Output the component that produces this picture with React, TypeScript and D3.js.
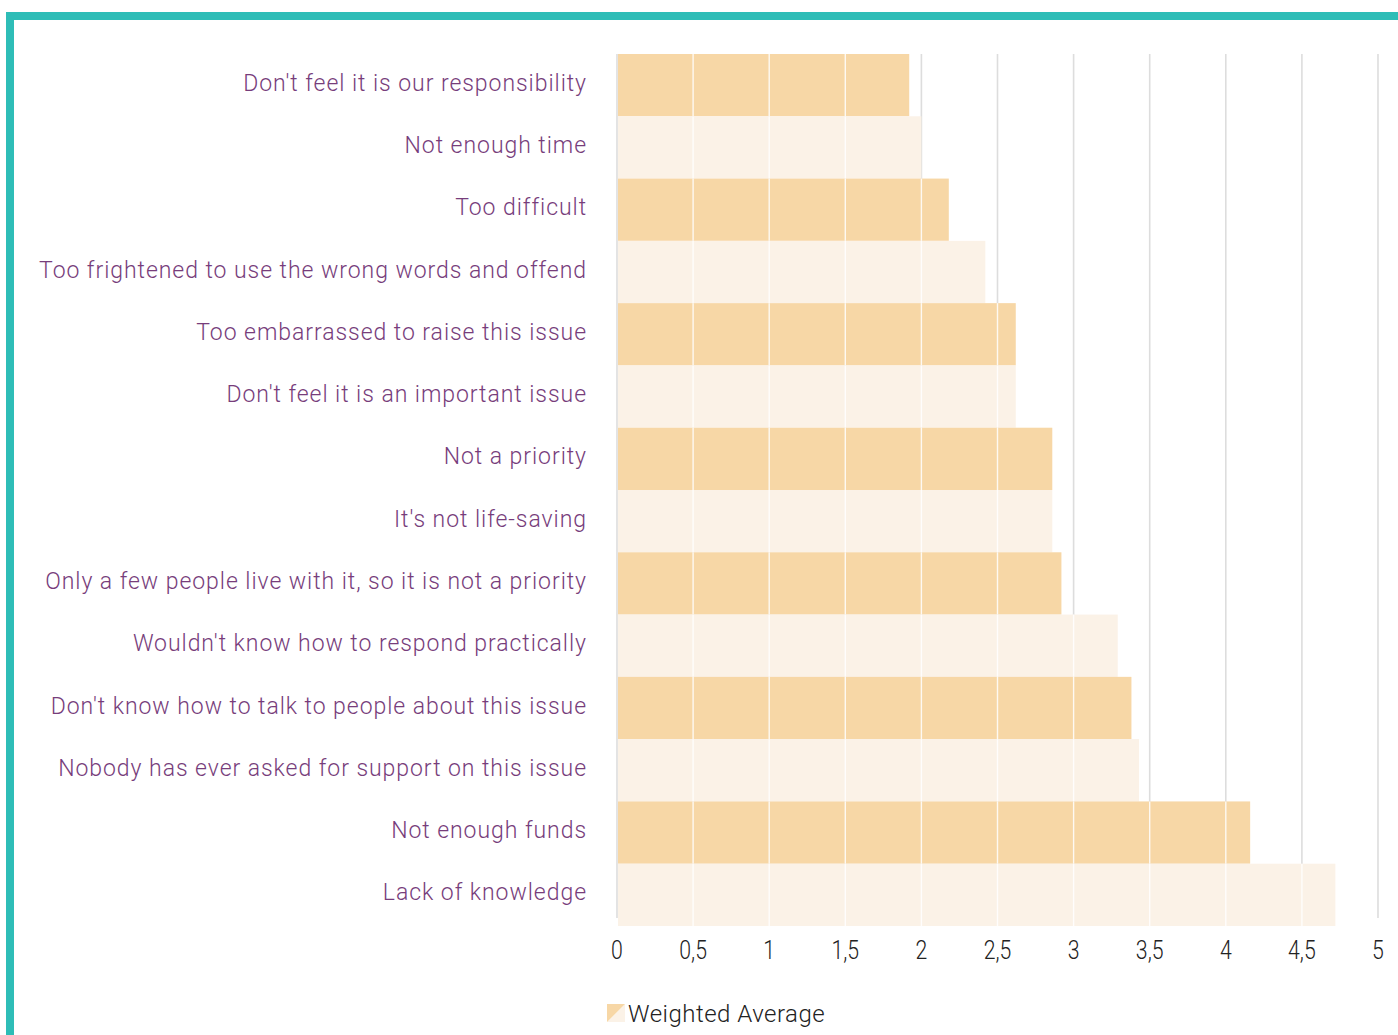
import React from "react";
import * as d3 from "d3";

const categories = [
  "Don't feel it is our responsibility",
  "Not enough time",
  "Too difficult",
  "Too frightened to use the wrong words and offend",
  "Too embarrassed to raise this issue",
  "Don't feel it is an important issue",
  "Not a priority",
  "It's not life-saving",
  "Only a few people live with it, so it is not a priority",
  "Wouldn't know how to respond practically",
  "Don't know how to talk to people about this issue",
  "Nobody has ever asked for support on this issue",
  "Not enough funds",
  "Lack of knowledge",
];
const values = [1.92, 2.0, 2.18, 2.42, 2.62, 2.62, 2.86, 2.86, 2.92, 3.29, 3.38, 3.43, 4.16, 4.72];
const tickValues = [0, 0.5, 1, 1.5, 2, 2.5, 3, 3.5, 4, 4.5, 5];
const seriesName = "Weighted Average";

const W = 1398;
const H = 1035;
const DARK = "#F7D7A6";
const LIGHT = "#FBF2E7";
const PURPLE = "#773D7B";
const TEAL = "#2EBDB7";

export default function App() {
  const x = d3.scaleLinear().domain([0, 5]).range([617, 1378]);
  const y = d3.scaleBand<string>().domain(categories).range([54, 926]).padding(0);
  const fmt = (v: number) => String(v).replace(".", ",");
  const bw = y.bandwidth();
  return (
    <div style={{ position: "absolute", left: 0, top: 0, width: W, height: H, background: "#fff" }}>
      <svg width={W} height={H} style={{ display: "block" }}>
        <rect x={0} y={0} width={W} height={H} fill="#fff" />
        {/* border */}
        <rect x={6} y={12} width={W - 6} height={8} fill={TEAL} />
        <rect x={6} y={12} width={8} height={H - 12} fill={TEAL} />
        {/* grey gridlines */}
        {tickValues.map((t) => (
          <line key={"g" + t} x1={x(t)} x2={x(t)} y1={54} y2={918} stroke="#DDDDDD" strokeWidth={1.6} />
        ))}
        {/* bars */}
        {categories.map((c, i) => (
          <rect key={c} x={x(0) + 1} y={y(c)} width={x(values[i]) - x(0) - 1} height={bw} fill={i % 2 === 0 ? DARK : LIGHT} />
        ))}
        {/* white gridlines over bars */}
        {categories.map((c, i) =>
          tickValues
            .filter((t) => t > 0 && x(t) < x(values[i]))
            .map((t) => (
              <line key={c + t} x1={x(t)} x2={x(t)} y1={y(c)} y2={(y(c) as number) + bw} stroke="#FFFFFF" strokeOpacity={0.85} strokeWidth={1.4} />
            ))
        )}
        {/* category labels */}
        {categories.map((c) => (
          <text
            key={"l" + c}
            x={587}
            y={(y(c) as number) + bw / 2 - 2}
            textAnchor="end"
            dominantBaseline="central"
            fill={PURPLE}
            style={{ fontFamily: "Roboto, 'Noto Sans', sans-serif", fontSize: 23, fontWeight: 300, letterSpacing: 0.95 }}
          >
            {c}
          </text>
        ))}
        {/* x tick labels */}
        {tickValues.map((t) => (
          <text
            key={"t" + t}
            x={x(t)}
            y={950}
            textAnchor="middle"
            dominantBaseline="central"
            fill="#222"
            style={{ fontFamily: "Roboto, 'Noto Sans', sans-serif", fontSize: 25, fontWeight: 300 }}
            transform={`translate(${x(t)},950) scale(0.85,1) translate(${-x(t)},-950)`}
          >
            {fmt(t)}
          </text>
        ))}
        {/* legend */}
        <polygon points="607,1022 625,1004 625,1022" fill={LIGHT} />
        <polygon points="607,1004 625,1004 607,1022" fill={DARK} />
        <text
          x={628}
          y={1014}
          dominantBaseline="central"
          fill="#222"
          style={{ fontFamily: "Roboto, 'Noto Sans', sans-serif", fontSize: 24, fontWeight: 300, letterSpacing: 0.5 }}
        >
          {seriesName}
        </text>
      </svg>
    </div>
  );
}
